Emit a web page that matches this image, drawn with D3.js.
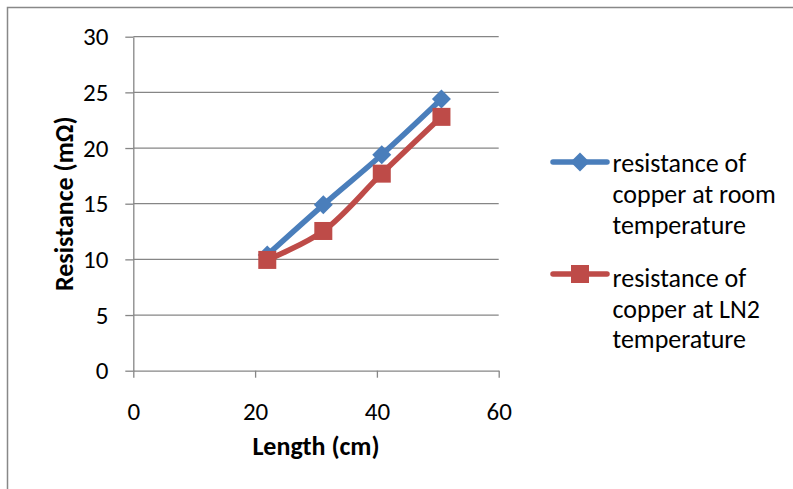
<!DOCTYPE html>
<html>
<head>
<meta charset="utf-8">
<script src="https://cdn.jsdelivr.net/npm/d3@7"></script>
<style>
  html, body { margin: 0; padding: 0; background: #fff; }
  svg { display: block; font-family: Carlito, Lato, "Open Sans", sans-serif; }
</style>
</head>
<body>
<svg id="chart" width="793" height="489"></svg>
<script>
// Length of copper wire (cm) and measured resistance (mΩ)
const lengths = [22.0, 31.2, 40.8, 50.6];
const roomTemp = [10.4, 14.9, 19.4, 24.4];
const ln2Temp = [9.95, 12.55, 17.7, 22.8];

const seriesNames = [
  ["resistance of", "copper at room", "temperature"],
  ["resistance of", "copper at LN2", "temperature"]
];
const xTicks = [0, 20, 40, 60];
const yTicks = [0, 5, 10, 15, 20, 25, 30];

const fontStack = "Carlito, Lato, 'Open Sans', sans-serif";
const svg = d3.select("#chart");
const gridColor = "#868686";

// outer chart frame
svg.append("rect")
  .attr("x", 7.5).attr("y", 7.5)
  .attr("width", 820).attr("height", 520)
  .attr("fill", "none").attr("stroke", "#888").attr("stroke-width", 1.5);

const x = d3.scaleLinear().domain([0, 60]).range([133.3, 498.7]);
const y = d3.scaleLinear().domain([0, 30]).range([370.7, 36.7]);

// horizontal gridlines
svg.append("g").selectAll("line").data(yTicks.filter(d => d > 0)).join("line")
  .attr("x1", x(0)).attr("x2", x(60))
  .attr("y1", d => y(d)).attr("y2", d => y(d))
  .attr("stroke", gridColor).attr("stroke-width", 1.3);

// y axis
const yAxis = svg.append("g")
  .attr("transform", `translate(${x(0)},0)`)
  .call(d3.axisLeft(y).tickValues(yTicks).tickSize(8).tickPadding(17).tickSizeOuter(0));
yAxis.select(".domain").attr("stroke", gridColor).attr("stroke-width", 1.3);
yAxis.selectAll(".tick line").attr("stroke", gridColor).attr("stroke-width", 1.3);
yAxis.selectAll("text").attr("font-size", 25).attr("fill", "#000")
  .attr("font-family", fontStack);

// x axis
const xAxis = svg.append("g")
  .attr("transform", `translate(0,${y(0)})`)
  .call(d3.axisBottom(x).tickValues(xTicks).tickSize(7).tickSizeOuter(0));
xAxis.select(".domain").attr("stroke", gridColor).attr("stroke-width", 1.3);
xAxis.selectAll(".tick line").attr("stroke", gridColor).attr("stroke-width", 1.3);
xAxis.selectAll("text").attr("font-size", 25).attr("fill", "#000")
  .attr("font-family", fontStack).attr("y", 49).attr("dy", 0);

// axis titles
svg.append("text")
  .attr("x", x(30)).attr("y", 455)
  .attr("text-anchor", "middle")
  .attr("font-size", 26).attr("font-weight", "bold")
  .text("Length (cm)");
svg.append("text")
  .attr("transform", `translate(73,${y(15)}) rotate(-90)`)
  .attr("text-anchor", "middle")
  .attr("font-size", 26).attr("font-weight", "bold")
  .text("Resistance (mΩ)");

const line = d3.line()
  .x(d => x(d[0])).y(d => y(d[1]))
  .curve(d3.curveCatmullRom.alpha(0.5));

const series = [
  { values: roomTemp, color: "#4A7EBB", marker: "diamond" },
  { values: ln2Temp, color: "#BE4B48", marker: "square" }
];

function drawMarker(g, kind, color) {
  if (kind === "diamond") {
    g.append("path").attr("d", "M0,-9.5L9.5,0L0,9.5L-9.5,0Z").attr("fill", color);
  } else {
    g.append("rect").attr("x", -9).attr("y", -9).attr("width", 18).attr("height", 18)
      .attr("fill", color);
  }
}

series.forEach(s => {
  const pts = lengths.map((l, i) => [l, s.values[i]]);
  svg.append("path")
    .attr("d", line(pts))
    .attr("fill", "none").attr("stroke", s.color)
    .attr("stroke-width", 5.5).attr("stroke-linejoin", "round").attr("stroke-linecap", "round");
  pts.forEach(p => {
    const g = svg.append("g").attr("transform", `translate(${x(p[0])},${y(p[1])})`);
    drawMarker(g, s.marker, s.color);
  });
});

// legend
const legendRows = [162, 274];
const legendBaselines = [[172, 203, 234], [287, 318, 348]];
series.forEach((s, i) => {
  const ly = legendRows[i];
  svg.append("line")
    .attr("x1", 553).attr("x2", 607).attr("y1", ly).attr("y2", ly)
    .attr("stroke", s.color).attr("stroke-width", 5.5).attr("stroke-linecap", "round");
  const g = svg.append("g").attr("transform", `translate(580,${ly})`);
  drawMarker(g, s.marker, s.color);
  const t = svg.append("text").attr("font-size", 26).attr("fill", "#000");
  seriesNames[i].forEach((str, j) => {
    t.append("tspan").attr("x", 612.5).attr("y", legendBaselines[i][j]).text(str);
  });
});
</script>
</body>
</html>
